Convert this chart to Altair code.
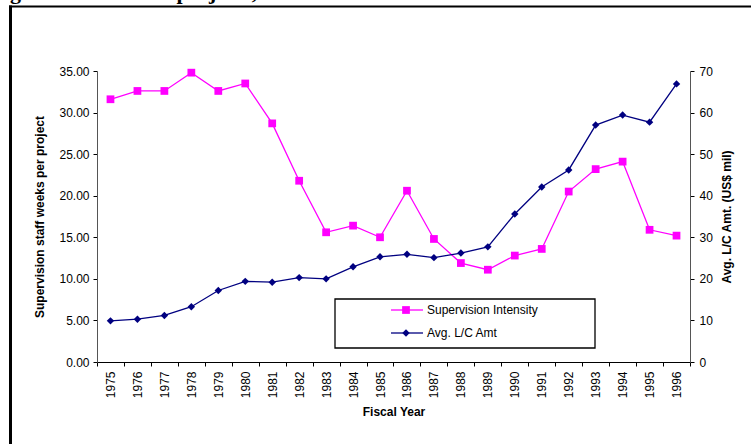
import altair as alt
import pandas as pd

# Fiscal years on the category axis
years = [str(y) for y in range(1975, 1997)]

# Supervision staff weeks per project (left axis)
supervision_intensity = [31.6, 32.6, 32.6, 34.8, 32.6, 33.5, 28.7, 21.8, 15.6, 16.4, 15.0,
                         20.6, 14.8, 11.9, 11.1, 12.8, 13.6, 20.5, 23.2, 24.1, 15.9, 15.2]

# Average loan/credit amount, US$ million (right axis)
avg_lc_amt = [9.9, 10.3, 11.2, 13.3, 17.2, 19.4, 19.2, 20.3, 20.0, 22.9, 25.3,
              25.9, 25.1, 26.2, 27.7, 35.6, 42.1, 46.2, 57.0, 59.4, 57.7, 66.9]

series_names = ["Supervision Intensity", "Avg. L/C Amt"]
series_colors = ["#FF00FF", "#000080"]
series_shapes = ["square", "diamond"]

left_ticks = [0, 5, 10, 15, 20, 25, 30, 35]
right_ticks = [0, 10, 20, 30, 40, 50, 60, 70]

heading = "growth vs. size of projects, 1975\u201396"

df = pd.DataFrame({"year": years,
                   "intensity": supervision_intensity,
                   "lc_amt": avg_lc_amt})

FONT = "Liberation Sans"
W, H = 593, 291

x_enc = alt.X(
    "year:O",
    scale=alt.Scale(type="band", paddingInner=0, paddingOuter=0),
    axis=alt.Axis(
        title="Fiscal Year", tickBand="extent", labelAngle=270,
        labelFont=FONT, labelFontSize=12, labelColor="#000000", labelPadding=5,
        tickSize=4, tickColor="#000000", domainColor="#000000",
        titleFont=FONT, titleFontSize=12, titleFontWeight="bold",
        titleColor="#000000", titlePadding=9,
    ),
)

base = alt.Chart(df)

left = base.mark_line(
    color=series_colors[0], strokeWidth=1.3,
    point=alt.OverlayMarkDef(shape=series_shapes[0], size=60, filled=True,
                             color=series_colors[0], opacity=1),
).encode(
    x=x_enc,
    y=alt.Y(
        "intensity:Q",
        scale=alt.Scale(domain=[0, 35], nice=False, zero=True),
        axis=alt.Axis(
            title="Supervision staff weeks per project", orient="left",
            values=left_ticks, format=".2f", grid=False,
            labelFont=FONT, labelFontSize=12, labelColor="#000000", labelPadding=4,
            tickSize=4, tickColor="#000000", domainColor="#555555",
            titleFont=FONT, titleFontSize=12, titleFontWeight="bold",
            titleColor="#000000", titlePadding=12,
        ),
    ),
)

right = base.mark_line(
    color=series_colors[1], strokeWidth=1.3,
    point=alt.OverlayMarkDef(shape=series_shapes[1], size=55, filled=True,
                             color=series_colors[1], opacity=1),
).encode(
    x=x_enc,
    y=alt.Y(
        "lc_amt:Q",
        scale=alt.Scale(domain=[0, 70], nice=False, zero=True),
        axis=alt.Axis(
            title="Avg. L/C Amt. (US$ mil)", orient="right",
            values=right_ticks, format="d", grid=False,
            labelFont=FONT, labelFontSize=12, labelColor="#000000", labelPadding=5,
            tickSize=4, tickColor="#000000", domainColor="#555555",
            titleFont=FONT, titleFontSize=12, titleFontWeight="bold",
            titleColor="#000000", titleAngle=270, titleBaseline="top",
            titlePadding=9,
        ),
    ),
)

one = alt.Chart(pd.DataFrame({"k": [0]}))

# Outer frame (left and top edges of the surrounding box)
frame_left = one.mark_rule(color="#000000", strokeWidth=3).encode(
    x=alt.value(-86.5), y=alt.value(-65.5), y2=alt.value(380))
frame_top = one.mark_rule(color="#000000", strokeWidth=2).encode(
    x=alt.value(-88), x2=alt.value(660), y=alt.value(-64.5))

# Heading text running above the frame, only its lowest strokes on the page
head = one.mark_text(font="Liberation Serif", fontSize=22, fontWeight="bold",
                     align="left", baseline="alphabetic", color="#000000").encode(
    x=alt.value(-87), y=alt.value(-72), text=alt.value(heading))

# Boxed legend
legend_box = one.mark_rect(fill="#FFFFFF", stroke="#000000", strokeWidth=1.3).encode(
    x=alt.value(238), x2=alt.value(498), y=alt.value(228), y2=alt.value(277))

legend_layers = [legend_box]
for i, (name, col, shp) in enumerate(zip(series_names, series_colors, series_shapes)):
    yy = 239 + i * 23
    legend_layers.append(one.mark_rule(color=col, strokeWidth=1.3).encode(
        x=alt.value(294), x2=alt.value(326), y=alt.value(yy)))
    legend_layers.append(one.mark_point(shape=shp, size=60 if i == 0 else 55,
                                        filled=True, color=col, opacity=1).encode(
        x=alt.value(309), y=alt.value(yy)))
    legend_layers.append(one.mark_text(font=FONT, fontSize=12, align="left",
                                       baseline="middle", color="#000000").encode(
        x=alt.value(330), y=alt.value(yy), text=alt.value(name)))

chart = alt.layer(
    left, right, frame_left, frame_top, head, *legend_layers
).resolve_scale(
    y="independent"
).properties(
    width=W, height=H,
    autosize=alt.AutoSizeParams(type="none"),
    padding={"left": 97, "top": 71, "right": 61, "bottom": 82},
    background="#FFFFFF",
).configure_view(
    strokeWidth=0
)

chart.save("out.html", embed_options={"renderer": "svg", "actions": False})
